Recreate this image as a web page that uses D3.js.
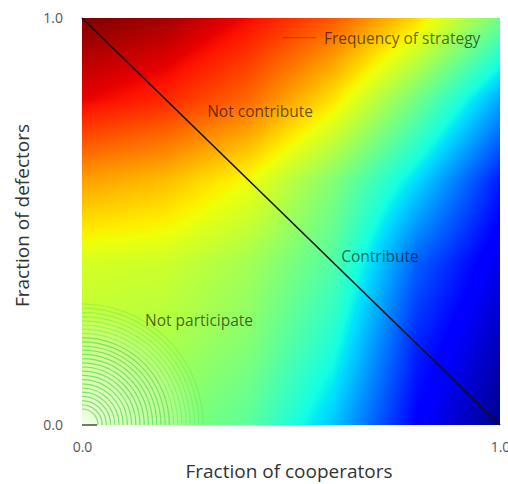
<!DOCTYPE html>
<html>
<head>
<meta charset="utf-8">
<script src="https://cdn.jsdelivr.net/npm/d3@7"></script>
<style>
body { margin: 0; background: #fff; }
text { font-family: "Open Sans", sans-serif; }
</style>
</head>
<body>
<svg width="508" height="484"></svg>
<script>
// sample grid: columns = fraction of cooperators,
// rows = fraction of defectors (top row first)
var cols = [0, 0.2, 0.4, 0.6, 0.8, 1];
var rows = [1, 0.8, 0.6, 0.4, 0.2, 0];
var freq = [
    [1.00, 0.97, 0.90, 0.82, 0.68, 0.49],
    [0.91, 0.87, 0.80, 0.67, 0.49, 0.29],
    [0.74, 0.71, 0.64, 0.51, 0.34, 0.15],
    [0.61, 0.60, 0.55, 0.45, 0.22, 0.09],
    [0.57, 0.56, 0.51, 0.39, 0.16, 0.05],
    [0.54, 0.52, 0.46, 0.32, 0.12, 0.01]
];
var divider = [[0, 1], [1, 0]];
var tickVals = [0, 1];
var notes = ['Frequency of strategy', 'Not contribute', 'Contribute', 'Not participate'];
var noteAt = [[0.766, 0.95], [0.426, 0.769], [0.713, 0.415], [0.28, 0.256]];

var svg = d3.select('svg');

var x = d3.scaleLinear().domain([0, 1]).range([82, 500]);
var y = d3.scaleLinear().domain([0, 1]).range([425, 18]);

// jet colormap
var jetR = d3.scaleLinear().domain([0, 0.35, 0.66, 0.89, 1]).range([0, 0, 1, 1, 0.5]).clamp(true);
var jetG = d3.scaleLinear().domain([0, 0.125, 0.375, 0.64, 0.91, 1]).range([0, 0, 1, 1, 0, 0]).clamp(true);
var jetB = d3.scaleLinear().domain([0, 0.11, 0.34, 0.65, 1]).range([0.5, 1, 1, 0, 0]).clamp(true);

// grid position of a value along each axis
var colIdx = d3.scaleLinear().domain(cols).range(d3.range(cols.length)).clamp(true);
var rowIdx = d3.scaleLinear().domain(rows).range(d3.range(rows.length)).clamp(true);

function sample(f, g){
    var ci = colIdx(f), ri = rowIdx(g);
    var i0 = Math.min(Math.floor(ci), cols.length - 2), j0 = Math.min(Math.floor(ri), rows.length - 2);
    var tx = ci - i0, ty = ri - j0;
    var top = freq[j0][i0] * (1 - tx) + freq[j0][i0 + 1] * tx;
    var bot = freq[j0 + 1][i0] * (1 - tx) + freq[j0 + 1][i0 + 1] * tx;
    return top * (1 - ty) + bot * ty;
}

var W = Math.round(x(1) - x(0)), H = Math.round(y(0) - y(1));
var big = document.createElement('canvas');
big.width = W; big.height = H;
var bctx = big.getContext('2d');
var px = bctx.createImageData(W, H);
for (var j = 0; j < H; j++) {
    for (var i = 0; i < W; i++) {
        var v = sample(x.invert(x(0) + i + 0.5), y.invert(y(1) + j + 0.5));
        var k = (j * W + i) * 4;
        px.data[k] = Math.round(jetR(v) * 255);
        px.data[k+1] = Math.round(jetG(v) * 255);
        px.data[k+2] = Math.round(jetB(v) * 255);
        px.data[k+3] = 255;
    }
}
bctx.putImageData(px, 0, 0);

svg.append('image')
    .attr('x', x(0))
    .attr('y', y(1))
    .attr('width', W)
    .attr('height', H)
    .attr('preserveAspectRatio', 'none')
    .attr('href', big.toDataURL());

// pale moire corner near the origin
var defs = svg.append('defs');
var rg = defs.append('radialGradient').attr('id', 'pale')
    .attr('gradientUnits', 'userSpaceOnUse')
    .attr('cx', x(0)).attr('cy', y(0)).attr('r', 120);
rg.append('stop').attr('offset', 0).attr('stop-color', '#fff').attr('stop-opacity', 0.85);
rg.append('stop').attr('offset', 0.6).attr('stop-color', '#fff').attr('stop-opacity', 0.4);
rg.append('stop').attr('offset', 1).attr('stop-color', '#fff').attr('stop-opacity', 0);
defs.append('clipPath').attr('id', 'plotclip')
    .append('rect').attr('x', x(0)).attr('y', y(1)).attr('width', W).attr('height', H);

var corner = svg.append('g').attr('clip-path', 'url(#plotclip)');
corner.append('rect')
    .attr('x', x(0)).attr('y', y(0) - 120)
    .attr('width', 120).attr('height', 120)
    .attr('fill', 'url(#pale)');
corner.selectAll('path.ring')
    .data(d3.range(16, 122, 4.2))
    .enter()
    .append('path')
    .attr('class', 'ring')
    .attr('d', function(r){
        var p = d3.path();
        p.moveTo(x(0), y(0) - r);
        p.arc(x(0), y(0), r, -Math.PI / 2, 0);
        return p.toString();
    })
    .attr('fill', 'none')
    .attr('stroke', '#6fdc5a')
    .attr('stroke-width', 1.2)
    .attr('stroke-opacity', function(r){ return r > 90 ? 0.4 : 0.85; });

// diagonal
svg.append('path')
    .datum(divider)
    .attr('d', d3.line().x(function(d){ return x(d[0]); }).y(function(d){ return y(d[1]); }))
    .attr('stroke', '#111')
    .attr('stroke-width', 1.6)
    .attr('fill', 'none');

// short dark stub along the bottom left
svg.append('line')
    .attr('x1', x(0)).attr('x2', x(0.036))
    .attr('y1', y(0)).attr('y2', y(0))
    .attr('stroke', '#222').attr('stroke-width', 1.2);

// faint legend handle
svg.append('line')
    .attr('x1', x(0.48)).attr('x2', x(0.56))
    .attr('y1', y(0.952)).attr('y2', y(0.952))
    .attr('stroke', '#5a0a0a').attr('stroke-opacity', 0.3).attr('stroke-width', 1.2);

// annotations
svg.selectAll('text.note')
    .data(notes)
    .enter()
    .append('text')
    .attr('class', 'note')
    .attr('x', function(d, i){ return x(noteAt[i][0]); })
    .attr('y', function(d, i){ return y(noteAt[i][1]); })
    .attr('dy', '0.35em')
    .attr('text-anchor', 'middle')
    .attr('font-size', 15.5)
    .attr('fill', '#000')
    .attr('fill-opacity', 0.62)
    .text(function(d){ return d; });

// axes
var ax = svg.append('g')
    .attr('transform', 'translate(0,' + y(0) + ')')
    .call(d3.axisBottom(x).tickValues(tickVals).tickFormat(d3.format('.1f')).tickSize(0).tickPadding(17));
var ay = svg.append('g')
    .attr('transform', 'translate(' + x(0) + ',0)')
    .call(d3.axisLeft(y).tickValues(tickVals).tickFormat(d3.format('.1f')).tickSize(0).tickPadding(19));
[ax, ay].forEach(function(g){
    g.select('.domain').remove();
    g.selectAll('text')
        .attr('font-family', '"Open Sans", sans-serif')
        .attr('font-size', 14)
        .attr('fill', '#555');
});

svg.append('text')
    .attr('x', x(0.5) - 2)
    .attr('y', 478)
    .attr('text-anchor', 'middle')
    .attr('font-size', 19)
    .attr('fill', '#333')
    .text('Fraction of cooperators');

svg.append('text')
    .attr('transform', 'rotate(-90)')
    .attr('x', -(y(0.5) - 6))
    .attr('y', 29)
    .attr('text-anchor', 'middle')
    .attr('font-size', 19)
    .attr('fill', '#333')
    .text('Fraction of defectors');
</script>
</body>
</html>
